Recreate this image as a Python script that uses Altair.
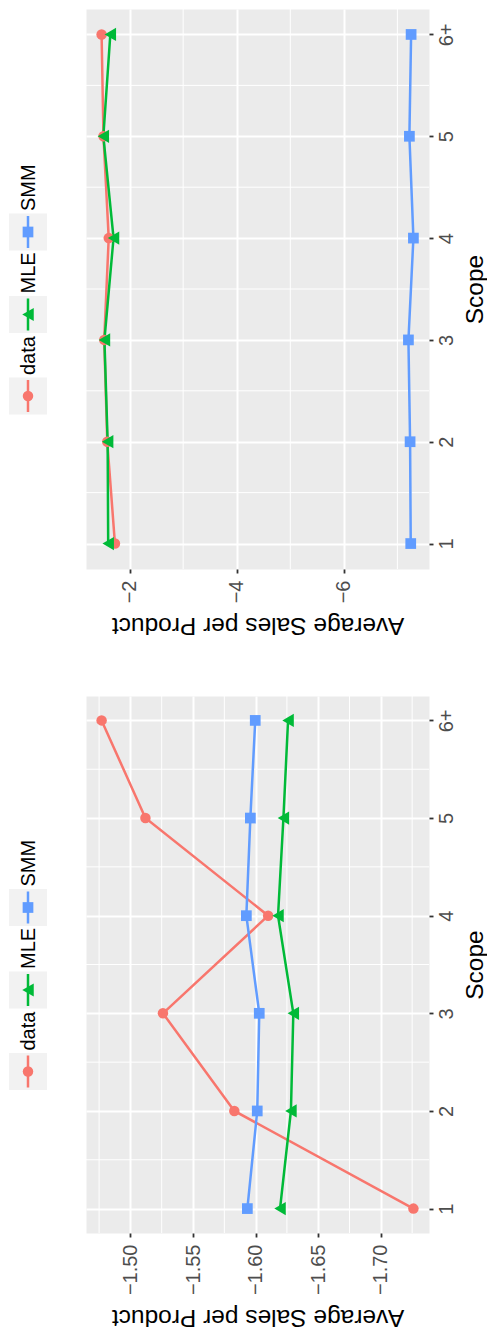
import json
import altair as alt
import pandas as pd

# ---------------- data ----------------
scope_values = [1, 2, 3, 4, 5, 6]
scope_labels = ["1", "2", "3", "4", "5", "6+"]
series_names = ["data", "MLE", "SMM"]
series_colors = ["#F8766D", "#00BA38", "#619CFF"]
series_shapes = ["circle", "triangle-left", "square"]
series_sizes = [110, 175, 115]

data_values = [-1.726, -1.583, -1.526, -1.610, -1.512, -1.477]

# upper panel
mle_top = [-1.600, -1.590, -1.530, -1.700, -1.510, -1.640]
smm_top = [-7.249, -7.237, -7.206, -7.299, -7.224, -7.256]

# lower panel
mle_bottom = [-1.6195, -1.6282, -1.6301, -1.6179, -1.6222, -1.6259]
smm_bottom = [-1.5934, -1.6013, -1.6029, -1.5926, -1.5958, -1.5997]

top_x_ticks = [-2, -4, -6]
top_x_minor = [-3, -5, -7]
bottom_x_ticks = [-1.50, -1.55, -1.60, -1.65, -1.70]
bottom_x_minor = [-1.475, -1.525, -1.575, -1.625, -1.675, -1.725]
scope_minor = [1.5, 2.5, 3.5, 4.5, 5.5]

FONT = "Liberation Sans"
PANEL_W = 343


def long_df(series_lists):
    rows = []
    for name, vals in zip(series_names, series_lists):
        for s, v in zip(scope_values, vals):
            rows.append({"scope": s, "value": v, "series": name})
    return pd.DataFrame(rows)


def legend_layers(height):
    """ggplot-style legend, turned with the chart, drawn left of the panel."""
    offsets = [107, 25.5, -57]
    layers = []
    for n, col, sh, sz, off in zip(series_names, series_colors, series_shapes, series_sizes, offsets):
        c = height / 2 + off
        src = alt.Chart(pd.DataFrame({"series": [n]}))
        layers.append(src.mark_rect(fill="#F2F2F2").encode(
            x=alt.value(-77), x2=alt.value(-39),
            y=alt.value(c - 18.5), y2=alt.value(c + 18.5)))
        layers.append(src.mark_rule(color=col, strokeWidth=2.5).encode(
            x=alt.value(-58), y=alt.value(c - 16), y2=alt.value(c + 16)))
        layers.append(src.mark_point(filled=True, opacity=1, shape=sh, size=sz,
                                     color=col, strokeWidth=0).encode(
            x=alt.value(-58), y=alt.value(c)))
        layers.append(src.mark_text(angle=270, align="left", baseline="middle",
                                    fontSize=20, font=FONT, color="black").encode(
            x=alt.value(-57.5), y=alt.value(c - 21), text="series:N"))
    return layers


def panel(series_lists, x_ticks, x_fmt, x_minor, height):
    df = long_df(series_lists)
    lo, hi = df["value"].min(), df["value"].max()
    pad = 0.05 * (hi - lo)
    xscale = alt.Scale(domain=[lo - pad, hi + pad], reverse=True, nice=False, zero=False)
    yscale = alt.Scale(domain=[0.75, 6.25], nice=False, zero=False)
    xaxis = alt.Axis(
        values=x_ticks, format=x_fmt, title="Average Sales per Product",
        labelAngle=270, labelAlign="right", labelBaseline="middle",
        labelFontSize=20, labelColor="#4D4D4D", labelPadding=7,
        labelOverlap=False, labelFlush=False,
        tickSize=4, tickColor="#333333", tickWidth=1.8, domain=False,
        grid=True, gridColor="white", gridWidth=2,
        titleAngle=180, titleBaseline="bottom", titleFontSize=24.5,
        titleFontWeight="normal", titleColor="black", titlePadding=10,
    )
    label_expr = json.dumps(scope_labels) + "[datum.value - 1]"
    yaxis = alt.Axis(
        orient="right", values=scope_values, labelExpr=label_expr,
        labelAngle=270, labelAlign="center", labelBaseline="top",
        labelFontSize=20, labelColor="#4D4D4D", labelPadding=3,
        labelOverlap=False, labelFlush=False,
        tickSize=4, tickColor="#333333", tickWidth=1.8, domain=False,
        grid=True, gridColor="white", gridWidth=2,
        title="Scope", titleAngle=270, titleBaseline="top", titleFontSize=24.5,
        titleFontWeight="normal", titleColor="black", titlePadding=7,
    )
    X = alt.X("value:Q", scale=xscale, axis=xaxis)
    Y = alt.Y("scope:Q", scale=yscale, axis=yaxis)
    color = alt.Color("series:N", scale=alt.Scale(domain=series_names, range=series_colors), legend=None)

    minor_x = alt.Chart(pd.DataFrame({"value": x_minor})).mark_rule(
        color="white", strokeWidth=1).encode(x=X)
    minor_y = alt.Chart(pd.DataFrame({"scope": scope_minor})).mark_rule(
        color="white", strokeWidth=1).encode(y=Y)
    lines = alt.Chart(df).mark_line(strokeWidth=2.5).encode(
        x=X, y=Y, color=color, detail="series:N", order=alt.Order("scope:Q"))
    pts = []
    for n, c, sh, sz in zip(series_names, series_colors, series_shapes, series_sizes):
        pts.append(
            alt.Chart(df).transform_filter(alt.datum.series == n).mark_point(
                filled=True, opacity=1, shape=sh, size=sz, color=c, strokeWidth=0
            ).encode(x=X, y=Y)
        )
    return alt.layer(minor_x, minor_y, lines, *pts, *legend_layers(height)).properties(
        width=PANEL_W, height=height,
        view=alt.ViewBackground(fill="#EBEBEB", stroke="transparent"),
    )


TOP_H = 560
BOT_H = 537

top_panel = panel([data_values, mle_top, smm_top], top_x_ticks, "d", top_x_minor, TOP_H)
bottom_panel = panel([data_values, mle_bottom, smm_bottom], bottom_x_ticks, ".2f", bottom_x_minor, BOT_H)

chart = alt.vconcat(top_panel, bottom_panel, spacing=56).properties(
    padding=0
).configure(font=FONT).configure_view(stroke="transparent")

chart.save("out.html", embed_options={"renderer": "svg", "actions": False})
